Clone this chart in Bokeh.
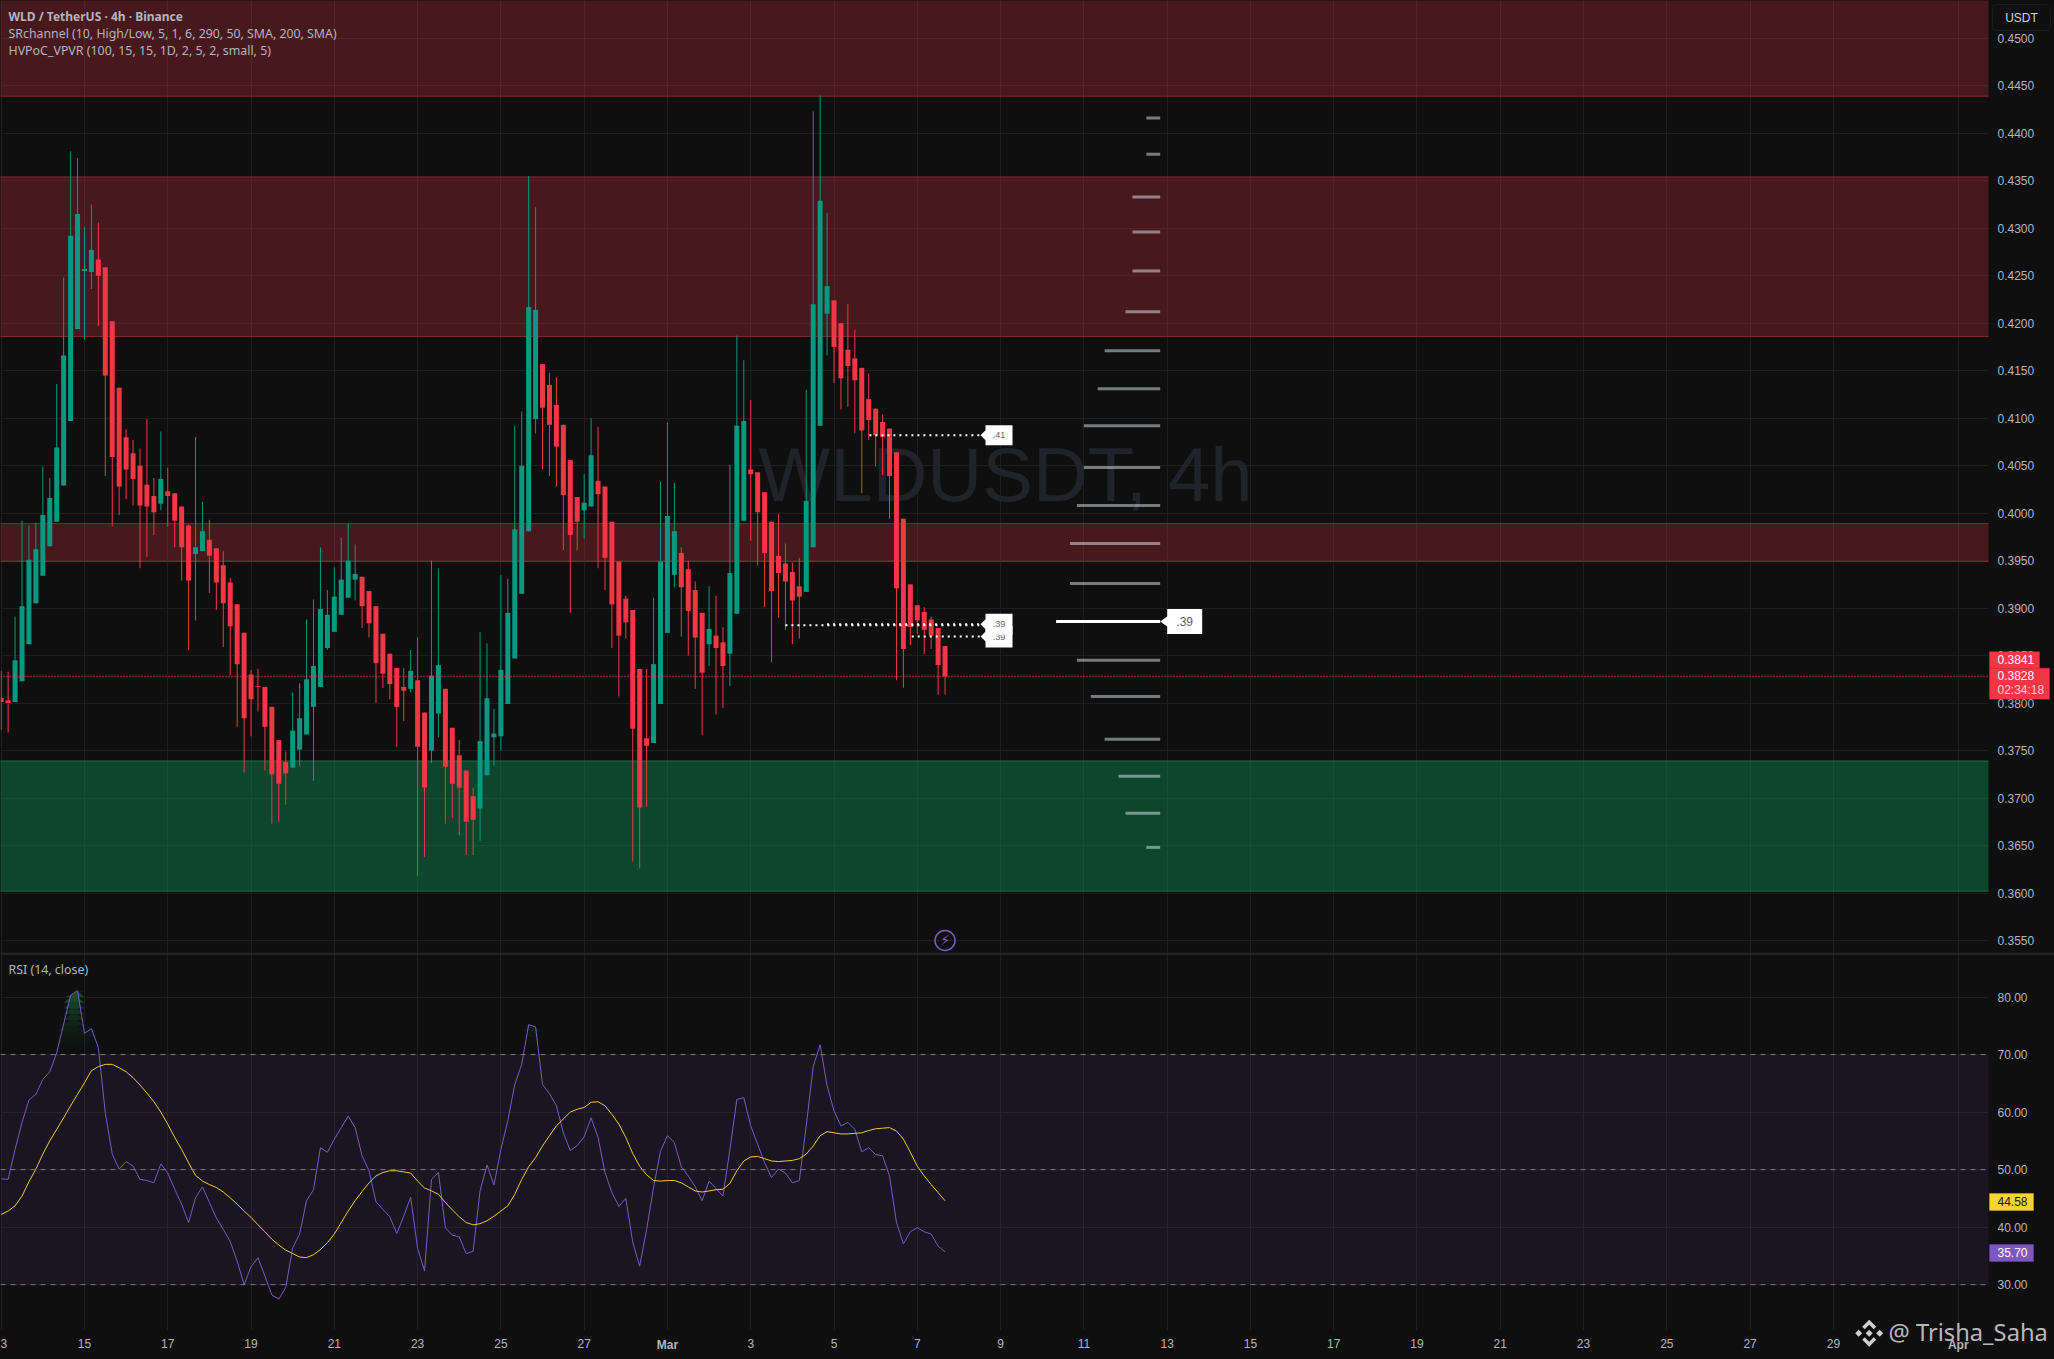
import numpy as np
from bokeh.plotting import figure
from bokeh.layouts import column
from bokeh.models import (FixedTicker, NumeralTickFormatter, Label, BoxAnnotation, PolyAnnotation, Span)
from bokeh.core.properties import value
from bokeh.embed import file_html
from bokeh.resources import INLINE

# ---- values ----
highs = [.3834,.3833,.3891,.3992,.3987,.3990,.4049,.4037,.4136,.4248,
.4381,.4374,.4302,.4325,.4306,.4259,.4202,.4132,.4088,.4077,
.4068,.4099,.4037,.4086,.4048,.4021,.4007,.3988,.4080,.4012,
.3993,.3963,.3960,.3932,.3904,.3874,.3835,.3836,.3817,.3796,
.3761,.3749,.3811,.3821,.3888,.3909,.3964,.3919,.3943,.3974,
.3989,.3967,.3933,.3918,.3902,.3873,.3852,.3837,.3837,.3856,
.3869,.3790,.3950,.3942,.3815,.3774,.3761,.3729,.3711,.3875,
.3863,.3794,.3935,.3931,.4092,.4107,.4355,.4322,.4157,.4148,
.4143,.4093,.4056,.4017,.4041,.4100,.4091,.4028,.3991,.3949,
.3913,.3898,.3836,.3836,.3911,.4033,.4095,.4032,.3964,.3950,
.3928,.3895,.3923,.3913,.3880,.4051,.4187,.4161,.4119,.4043,
.4022,.3991,.3999,.3968,.3948,.3953,.4130,.4423,.4440,.4316,
.4224,.4200,.4220,.4193,.4153,.4147,.4110,.4104,.4089,.4064,
.3994,.3925,.3903,.3901,.3891,.3879,.3860]
lows = [.3772,.3769,.3801,.3823,.3862,.3905,.3934,.3965,.3991,.4029,
.4097,.4194,.4183,.4236,.4197,.4039,.3986,.3998,.4015,.4008,
.3942,.3954,.3977,.4003,.3986,.3964,.3929,.3856,.3887,.3960,
.3916,.3898,.3859,.3829,.3775,.3727,.3765,.3791,.3729,.3673,
.3675,.3693,.3732,.3734,.3767,.3718,.3817,.3856,.3875,.3893,
.3911,.3908,.3879,.3869,.3800,.3816,.3804,.3754,.3781,.3811,
.3618,.3638,.3737,.3764,.3673,.3679,.3661,.3640,.3640,.3655,
.3724,.3734,.3750,.3799,.3847,.3915,.3981,.4084,.4046,.4039,
.4028,.3961,.3895,.3961,.3973,.4007,.3942,.3919,.3858,.3807,
.3868,.3633,.3626,.3691,.3758,.3799,.3874,.3922,.3870,.3850,
.3815,.3766,.3839,.3788,.3795,.3818,.3894,.3992,.3971,.3945,
.3901,.3843,.3890,.3877,.3862,.3868,.3917,.3964,.4092,.4166,
.4137,.4109,.4112,.4084,.4021,.4077,.4049,.4040,.3994,.3824,
.3816,.3861,.3873,.3852,.3857,.3809,.3809]
opens = [.38055,.3803,.3801,.3823,.3862,.3905,.3934,.3965,.3991,.4029,
.4097,.4194,.4255,.4254,.4267,.4259,.4202,.4132,.4080,.4063,
.4050,.4030,.4018,.4010,.4023,.4021,.4007,.3987,.3957,.3960,
.3972,.3963,.3945,.3927,.3904,.3874,.3830,.3818,.3817,.3796,
.3761,.3738,.3732,.3751,.3767,.3796,.3817,.3858,.3875,.3893,
.3911,.3930,.3933,.3918,.3902,.3873,.3852,.3837,.3817,.3815,
.3824,.3790,.3750,.3789,.3815,.3774,.3745,.3729,.3702,.3689,
.3724,.3764,.3765,.3799,.3847,.3915,.3981,.4099,.4157,.4135,
.4114,.4093,.4056,.4017,.4003,.4007,.4034,.4028,.3991,.3949,
.3910,.3898,.3836,.3763,.3758,.3799,.3874,.3935,.3958,.3941,
.3919,.3895,.3862,.3871,.3864,.3852,.3894,.3992,.4046,.4043,
.4022,.3991,.3955,.3947,.3938,.3923,.3917,.3964,.4092,.4210,
.4224,.4200,.4172,.4163,.4153,.4120,.4110,.4096,.4089,.4064,
.3994,.3925,.3903,.3896,.3888,.3879,.3860]
closes = [.3801,.3800,.3845,.3902,.3951,.3962,.3998,.4016,.4069,.4166,
.4292,.4315,.4257,.4277,.4250,.4145,.4059,.4028,.4046,.4036,
.4008,.4007,.4001,.4036,.4018,.3992,.3964,.3929,.3964,.3981,
.3955,.3927,.3905,.3881,.3841,.3784,.3804,.3817,.3775,.3725,
.3715,.3726,.3771,.3784,.3825,.3839,.3899,.3893,.3912,.3930,
.3950,.3936,.3902,.3884,.3842,.3831,.3820,.3796,.3813,.3834,
.3754,.3711,.3829,.3840,.3733,.3715,.3711,.3675,.3677,.3760,
.3805,.3768,.3835,.3895,.3983,.4050,.4217,.4214,.4111,.4093,
.4070,.4019,.3977,.3991,.4011,.4061,.4020,.3953,.3904,.3871,
.3885,.3773,.3690,.3755,.3841,.3949,.3997,.3981,.3922,.3897,
.3869,.3832,.3878,.3858,.3839,.3937,.4092,.4097,.4041,.4001,
.3958,.3918,.3937,.3928,.3908,.3912,.4013,.4220,.4329,.4239,
.4175,.4142,.4155,.4140,.4087,.4098,.4082,.4080,.4039,.3921,
.3857,.3880,.3887,.3877,.3871,.3840,.3828]
rsi = [48.4,48.3,53.5,58.2,62.1,63.1,65.7,67.0,70.3,75.3,
80.3,81.1,73.7,74.5,71.2,59.9,52.7,50.1,51.4,50.6,
48.3,48.1,47.7,51.0,49.4,46.6,44.0,40.8,45.1,47.0,
44.3,41.6,39.6,37.5,34.1,30.0,33.1,34.7,31.5,28.2,
27.5,29.5,36.4,38.8,44.6,46.5,53.8,53.0,55.3,57.3,
59.3,57.3,52.4,49.8,44.4,43.1,41.8,38.9,41.9,45.2,
36.3,32.4,48.3,49.5,39.9,38.6,38.3,35.4,35.8,46.3,
50.8,47.3,53.5,58.5,64.8,68.3,75.2,74.8,64.8,63.2,
61.1,56.4,53.3,54.2,55.7,59.0,55.6,49.5,46.0,43.6,
45.0,37.4,33.2,39.6,46.9,53.2,55.9,54.7,50.5,48.9,
47.0,44.6,48.0,46.7,45.4,53.5,62.2,62.5,57.6,54.4,
51.2,48.6,50.1,49.4,47.7,48.1,57.6,67.9,71.7,64.6,
60.2,57.6,58.2,57.0,53.1,53.8,52.6,52.4,48.9,40.8,
37.1,39.2,39.9,39.2,38.8,36.7,35.7]
rsi_ma = [42.2,42.8,43.7,45.4,47.9,50.1,52.7,55.0,57.0,59.0,
61.1,63.1,65.1,67.2,67.9,68.3,68.3,67.7,67.0,66.0,
64.7,63.3,61.8,60.0,57.9,55.6,53.5,51.2,49.0,48.0,
47.4,46.9,46.1,45.1,44.0,42.8,41.7,40.4,39.2,37.9,
36.9,36.0,35.4,34.8,34.7,35.2,36.1,37.3,38.8,40.8,
42.8,44.6,46.2,47.7,48.9,49.5,49.8,49.8,49.6,49.4,
48.0,46.8,46.3,45.7,44.3,43.0,41.8,40.8,40.4,40.6,
41.1,41.9,42.8,43.7,45.7,48.3,50.5,52.1,54.1,55.9,
57.6,58.8,60.0,60.5,60.8,61.7,61.8,61.1,59.6,57.9,
55.6,52.8,50.6,49.1,48.1,48.0,48.1,48.1,47.7,47.0,
46.3,46.1,46.3,46.5,46.6,47.6,49.8,51.5,52.2,52.3,
51.9,51.5,51.4,51.5,51.6,51.9,52.7,54.1,55.9,56.6,
56.4,56.2,56.2,56.3,56.4,56.8,57.1,57.2,57.3,56.7,
55.3,53.0,50.6,48.9,47.4,46.0,44.58]
band_tops = [0.4541, 0.4354, 0.3989]
band_bottoms = [0.4439, 0.4186, 0.3949]
support_top = 0.3739
support_bottom = 0.3602
profile_levels = [.4416,.4378,.4333,.4296,.4255,.4212,.4171,.4131,.4092,.4048,
                  .4008,.3968,.3926,.3886,.3845,.3807,.3762,.3723,.3684,.3648]
profile_volume = [2,2,4,4,4,5,8,9,11,11,12,13,13,15,12,10,8,6,5,2]
poc_level = .3886
last_price = .3828
prev_close = .3841
rsi_last = 35.70
rsi_ma_last = 44.58
price_ticks = [round(.355 + .005*k, 4) for k in range(20)]
rsi_ticks = [30, 40, 50, 60, 70, 80]
rsi_lines = [30, 50, 70]
date_ticks = [0,12,24,36,48,60,72,84,96,108,120,132,144,156,168,180,192,204,216,228,240,252,264,282]
date_labels = ["3","15","17","19","21","23","25","27","Mar","3","5","7","9","11","13","15","17","19","21","23","25","27","29","Apr"]
title_lines = ["WLD / TetherUS · 4h · Binance",
               "SRchannel (10, High/Low, 5, 1, 6, 290, 50, SMA, 200, SMA)",
               "HVPoC_VPVR (100, 15, 15, 1D, 2, 5, 2, small, 5)"]

# ---- styling ----
BG = "#0f0f0f"
RED = "#f23645"
GREEN = "#089981"
GRID = "#1e1e1e"
TXT = "#b2b5be"
PURPLE = "#7e57c2"
YELLOW = "#f5c72c"
SANS = "Liberation Sans"
LEG = "Noto Sans"
W = 2054
HT = 1359
FRAME_W = 1988
H1 = 953
H2F = 377
H2 = 406
PX_X = 1 / 6.94
PX_Y = 1 / 9500.0
XR = (-0.1, 286.35)
YR1 = (0.35363, 0.45398)
YR2 = (22.03, 87.57)

x = np.arange(len(closes))
o, h, l, c = map(np.array, (opens, highs, lows, closes))
up = c >= o
cols = np.where(up, GREEN, RED).tolist()


def base(fig_h, yr):
    f = figure(width=W, height=fig_h, x_range=XR, y_range=yr, output_backend="svg",
               toolbar_location=None, background_fill_color=BG, border_fill_color=None,
               outline_line_color=None, min_border_left=0, min_border_top=0,
               min_border_right=W - FRAME_W, min_border_bottom=0,
               x_axis_location="below", y_axis_location="right", margin=0)
    f.yaxis.major_tick_line_color = None
    f.yaxis.minor_tick_line_color = None
    f.yaxis.axis_line_color = None
    f.yaxis.major_tick_out = 0
    f.yaxis.major_tick_in = 0
    f.yaxis.major_label_standoff = 9
    f.yaxis.major_label_text_color = TXT
    f.yaxis.major_label_text_font = SANS
    f.yaxis.major_label_text_font_size = "12px"
    f.xgrid.ticker = FixedTicker(ticks=date_ticks)
    f.xgrid.grid_line_color = GRID
    f.ygrid.grid_line_color = GRID
    return f


p = base(H1, YR1)
p.xaxis.visible = False
p.yaxis.ticker = FixedTicker(ticks=price_ticks)
p.ygrid.ticker = FixedTicker(ticks=price_ticks)
p.yaxis.formatter = NumeralTickFormatter(format="0.0000")

# transparent sheet over the whole page for everything that lies outside the plot frames
top = figure(width=W, height=HT, x_range=(0, W), y_range=(0, HT), output_backend="svg", toolbar_location=None,
             background_fill_color=None, border_fill_color=None, outline_line_color=None,
             min_border=0, x_axis_location=None, y_axis_location=None, margin=(-HT, 0, 0, 0))
top.grid.visible = False
top.frame_align = False


def lab(sx, top_y, text, color=TXT, size="12px", font=SANS, style="normal", align="left", alpha=1.0):
    top.add_layout(Label(x=sx, y=HT - top_y, x_units="screen", y_units="screen", text=text,
                         text_color=color, text_font_size=size, text_font=font, text_font_style=style,
                         text_align=align, text_baseline="middle", text_alpha=alpha))


def box(x0, x1, y0, y1, color, line=None, radius=0):
    top.add_layout(BoxAnnotation(left=x0, right=x1, top=HT - y0, bottom=HT - y1,
                                 left_units="screen", right_units="screen", top_units="screen", bottom_units="screen",
                                 fill_color=color, fill_alpha=1, line_color=line or color, line_width=1,
                                 border_radius=radius))


def y_price(v):
    return 512.8 + (0.40 - v) * 9500


def y_rsi(v):
    return 1054.3 + (70 - v) * 5.75


# watermark behind everything
p.text([(1005 - 0.7) * PX_X], [.40 + (513.3 - 475) * PX_Y], text=["WLDUSDT, 4h"], text_color="#22232a",
       text_font=value(SANS), text_font_size="76px", text_align="center", text_baseline="middle")

# S/R bands
left_edge = [XR[0] - 1] * 3
right_edge = [XR[1] + 1] * 3
p.quad(left=left_edge, right=right_edge, top=band_tops, bottom=band_bottoms,
       fill_color=RED, fill_alpha=0.25, line_color="#7d2a30", line_width=1)
p.quad(left=[XR[0] - 1], right=[XR[1] + 1], top=[support_top], bottom=[support_bottom],
       fill_color="#089957", fill_alpha=0.40, line_color="#1c6e45", line_width=1)

# volume profile
PROFILE_END = 167
pv = np.array(profile_volume, dtype=float)
pcols = ["#ffffff" if lv == poc_level else "#dfe7f0" for lv in profile_levels]
palph = [1.0 if lv == poc_level else 0.5 for lv in profile_levels]
p.segment(PROFILE_END - pv, profile_levels, [PROFILE_END] * len(pv), profile_levels,
          line_color=pcols, line_alpha=palph, line_width=3, line_cap="butt")

# last price
p.add_layout(Span(location=last_price, dimension="width", line_color=RED, line_width=1.4, line_dash="1 2"))

# candles
p.segment(x, l, x, h, line_color=cols, line_width=1)
p.vbar(x, width=0.72, top=np.maximum(o, c), bottom=np.minimum(o, c), fill_color=cols, line_color=cols, line_width=0)

# HVPoC callouts
def callout(x_tip, y, text, wpx, hpx, size, head=5):
    dx = PX_X
    dy = PX_Y
    hw = hpx / 2
    px = [x_tip, x_tip + head*dx, x_tip + head*dx, x_tip + wpx*dx, x_tip + wpx*dx, x_tip + head*dx, x_tip + head*dx]
    py = [y, y + min(5, hw)*dy, y + hw*dy, y + hw*dy, y - hw*dy, y - hw*dy, y - min(5, hw)*dy]
    p.patch(px, py, fill_color="white", line_color="white", line_width=0)
    p.text([x_tip + (head + (wpx - head)/2)*dx], [y], text=[text], text_color="#5d606b",
           text_font=value(SANS), text_font_size=size, text_align="center", text_baseline="middle")

tag_x = (980 - 0.7) * PX_X
dots = [(125.1, .4082), (113.0, .3882), (119.0, .3883), (131.2, .3870)]
for x0, lv in dots:
    p.segment([x0], [lv], [tag_x], [lv], line_color="white", line_width=2, line_dash="2 4")
callout(tag_x, .4082, ".41", 32, 20, "9px")
callout(tag_x, .3870, ".39", 32, 22, "9px")
callout(tag_x, .3883, ".39", 32, 21, "9px")
callout(PROFILE_END, poc_level, ".39", 42, 25, "12px", head=7)

# alert icon
p.scatter([136], [.355], marker="circle", size=20, fill_color=None, line_color=PURPLE, line_width=1.5)
p.text([136], [.355], text=["⚡"], text_color=PURPLE, text_font=value("DejaVu Sans"), text_font_size="14px",
       text_align="center", text_baseline="middle")

# legend texts
lab(8, 16, title_lines[0], style="bold", font=LEG)
lab(8, 32.5, title_lines[1], font=LEG, size="12.35px")
lab(8, 49.5, title_lines[2], font=LEG, size="12.4px")

# pane separator
box(0, W, 952.5, 954, "#2a2a2a")

# USDT button
box(1992, 2050, 4, 30, BG, "#3a3e49", radius=5)
lab(2021, 17.5, "USDT", color="#d1d4dc", align="center")

# price tags
yb = y_price(last_price)
box(1989, 2039, yb - 25, yb - 8.5, RED)
box(1989, 2049, yb - 8.5, yb + 22.5, RED)
lab(1997, yb - 17.2, f"{prev_close:.4f}", color="white")
lab(1997, yb - 1, f"{last_price:.4f}", color="white")
lab(1997, yb + 13.3, "02:34:18", color="white", alpha=0.75)

# ---- RSI pane ----
q = base(H2, YR2)
q.min_border_bottom = H2 - H2F
q.yaxis.ticker = FixedTicker(ticks=rsi_ticks)
q.ygrid.ticker = FixedTicker(ticks=rsi_ticks)
q.yaxis.formatter = NumeralTickFormatter(format="0.00")
q.xaxis.ticker = FixedTicker(ticks=date_ticks)
ovr = {d: ("" if s in ("Mar", "Apr") else s) for d, s in zip(date_ticks, date_labels)}
q.xaxis.major_label_overrides = ovr
q.xaxis.axis_line_color = None
q.xaxis.major_tick_line_color = None
q.xaxis.minor_tick_line_color = None
q.xaxis.major_tick_out = 0
q.xaxis.major_tick_in = 0
q.xaxis.major_label_standoff = 8
q.xaxis.major_label_text_color = TXT
q.xaxis.major_label_text_font = SANS
q.xaxis.major_label_text_font_size = "12px"

q.quad(left=[XR[0] - 1], right=[XR[1] + 1], top=[rsi_lines[2]], bottom=[rsi_lines[0]],
       fill_color=PURPLE, fill_alpha=0.1, line_color=None)
for lv in rsi_lines:
    q.add_layout(Span(location=lv, dimension="width", line_color="#787b86", line_width=1, line_dash="5 5"))

r = np.array(rsi)
for lv in range(70, 82):
    a = ((lv + 1 - 70) / 10) ** 2 * 0.4
    q.varea(x, y1=np.full(len(x), float(lv)), y2=np.clip(r, lv, lv + 1), fill_color="#17a050", fill_alpha=min(a, 0.45))
for lv in range(27, 30):
    a = ((30 - lv) / 10) ** 2 * 0.8
    q.varea(x, y1=np.clip(r, lv, lv + 1), y2=np.full(len(x), float(lv + 1)), fill_color=RED, fill_alpha=a)

q.line(x, rsi, line_color=PURPLE, line_width=1)
q.line(x, rsi_ma, line_color=YELLOW, line_width=1)

lab(8, 969, "RSI (14, close)", font=LEG, size="12.4px")

for d, s in zip(date_ticks, date_labels):
    if s in ("Mar", "Apr"):
        lab(0.7 + 6.94 * d, 1344, s, style="bold", align="center")

ym = y_rsi(rsi_ma_last)
yr = y_rsi(rsi_last)
box(1989, 2033, ym - 7.5, ym + 9.5, "#f9d233")
lab(1997, ym + 0.5, f"{rsi_ma_last:.2f}", color="#131722")
box(1989, 2033, yr - 7.5, yr + 9.5, PURPLE)
lab(1997, yr + 0.5, f"{rsi_last:.2f}", color="white")

# Binance mark + author watermark
cx, cy = 1868.7, 1332.7
MARK = "#cfcfcf"
def poly(pts):
    top.add_layout(PolyAnnotation(xs=[cx + a for a, b in pts], ys=[HT - (cy + b) for a, b in pts],
                                  xs_units="screen", ys_units="screen", fill_color=MARK, fill_alpha=1,
                                  line_color=MARK, line_width=0))
d = [(0, -3.5), (3.5, 0), (0, 3.5), (-3.5, 0)]
for ox in (-10.5, 0, 10.5):
    poly([(a + ox, b) for a, b in d])
chev = [(0, -13.5), (7, -6.5), (4.5, -4), (0, -8.5), (-4.5, -4), (-7, -6.5)]
poly(chev)
poly([(a, -b) for a, b in chev])
lab(1888, 1331, "@ Trisha_Saha", color="#d0d0d0", size="23.7px", font="Noto Sans", alpha=0.9)

page = column(p, q, top, spacing=0, margin=0, styles={"background-color": BG})
open("out.html", "w").write(file_html(page, INLINE))
